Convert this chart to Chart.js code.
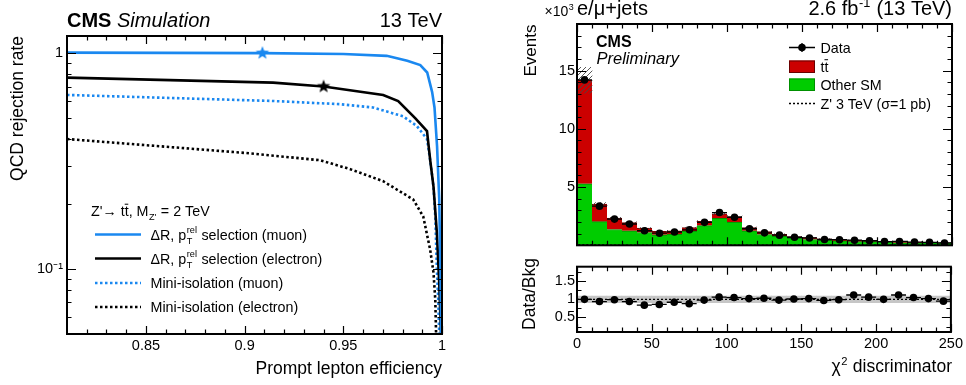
<!DOCTYPE html>
<html>
<head>
<meta charset="utf-8">
<script src="https://cdn.jsdelivr.net/npm/chart.js@4.4.1/dist/chart.umd.min.js"></script>
<style>
  html, body { margin: 0; padding: 0; background: #fff; }
  #wrap { position: relative; width: 966px; height: 385px; overflow: hidden; }
  canvas { position: absolute; }
</style>
</head>
<body>
<div id="wrap">
  <canvas id="rocChart" width="483" height="385" style="left:0;top:0"></canvas>
  <canvas id="histChart" width="483" height="256" style="left:483px;top:0"></canvas>
  <canvas id="ratioChart" width="483" height="129" style="left:483px;top:256px"></canvas>
</div>
<script>
const FONT = "'Liberation Sans', Arial, Helvetica, sans-serif";
Chart.defaults.font.family = FONT;
Chart.defaults.color = '#000';

// left panel: QCD rejection vs prompt lepton efficiency
const effTickValues = [0.85, 0.9, 0.95, 1];
const rejTickValues = [0.1, 1];
const muonDrEff = [0.81, 0.909, 0.95, 0.972, 0.9824, 0.989, 0.9925, 0.995, 0.9962, 0.9975, 0.9986, 0.9992, 0.9996];
const muonDrRej = [1.005, 1.0, 0.99, 0.971, 0.921, 0.88, 0.813, 0.66, 0.56, 0.37, 0.21, 0.10, 0.05];
const elecDrEff = [0.81, 0.9144, 0.94, 0.9702, 0.9778, 0.9864, 0.9924, 0.994, 0.9957, 0.9974, 0.9986, 0.9995];
const elecDrRej = [0.77, 0.73, 0.70, 0.64, 0.60, 0.50, 0.435, 0.32, 0.24, 0.147, 0.086, 0.05];
const muonMiniEff = [0.81, 0.9144, 0.9483, 0.965, 0.9802, 0.9872, 0.9924, 0.994, 0.9957, 0.9966, 0.9974, 0.9981, 0.9986];
const muonMiniRej = [0.64, 0.60, 0.58, 0.56, 0.51, 0.46, 0.40, 0.32, 0.24, 0.175, 0.10, 0.072, 0.05];
const elecMiniEff = [0.81, 0.90, 0.9383, 0.9535, 0.9702, 0.9854, 0.9905, 0.994, 0.9957, 0.9966, 0.997];
const elecMiniRej = [0.40, 0.345, 0.319, 0.29, 0.255, 0.21, 0.175, 0.123, 0.096, 0.072, 0.05];
const muonWpEff = [0.909], muonWpRej = [1.0];
const elecWpEff = [0.94], elecWpRej = [0.70];

// right panel: chi2 discriminator (x10^3 events)
const chi2Edges = [0, 10, 20, 30, 40, 50, 60, 70, 80, 90, 100, 110, 120, 130, 140, 150, 160, 170, 180, 190, 200, 210, 220, 230, 240, 250];
const otherSM = [5.28, 2.03, 1.36, 1.24, 1.1, 0.9, 0.96, 1.22, 1.69, 2.31, 2.0, 1.24, 0.93, 0.78, 0.6, 0.5, 0.43, 0.39, 0.33, 0.31, 0.25, 0.22, 0.19, 0.18, 0.17];
const ttbar = [8.89, 1.5, 0.97, 0.71, 0.37, 0.3, 0.29, 0.3, 0.36, 0.39, 0.47, 0.28, 0.24, 0.17, 0.15, 0.16, 0.13, 0.11, 0.09, 0.08, 0.08, 0.09, 0.09, 0.07, 0.05];
const bkgUnc = [1.1, 0.14, 0.08, 0.07, 0.05, 0.04, 0.04, 0.05, 0.07, 0.09, 0.08, 0.05, 0.04, 0.03, 0.03, 0.02, 0.02, 0.02, 0.02, 0.01, 0.01, 0.01, 0.01, 0.01, 0.01];
const zPrime = [0.28, 0.05, 0.03, 0.02, 0.02, 0.02, 0.02, 0.02, 0.02, 0.02, 0.02, 0.01, 0.01, 0.01, 0.01, 0.01, 0.01, 0.01, 0.01, 0.01, 0.01, 0.01, 0.01, 0.01, 0.01];
const dataEvents = [14.2, 3.36, 2.25, 1.83, 1.25, 1.04, 1.14, 1.33, 1.97, 2.81, 2.41, 1.42, 1.07, 0.87, 0.69, 0.63, 0.5, 0.48, 0.44, 0.39, 0.32, 0.33, 0.28, 0.25, 0.2];
const dataOverBkg = [1.0, 0.94, 0.99, 0.94, 0.84, 0.86, 0.92, 0.88, 0.98, 1.06, 1.05, 1.02, 1.03, 0.98, 1.01, 1.02, 0.97, 0.99, 1.12, 1.06, 1.0, 1.12, 1.05, 1.02, 0.95];
const ratioUnc = [0.09, 0.09, 0.09, 0.09, 0.09, 0.09, 0.09, 0.09, 0.09, 0.09, 0.09, 0.09, 0.09, 0.09, 0.09, 0.09, 0.09, 0.09, 0.09, 0.09, 0.09, 0.09, 0.09, 0.09, 0.09];
const chi2TickValues = [0, 50, 100, 150, 200, 250];
const eventsTickValues = [5, 10, 15];
const ratioTickValues = [0.5, 1, 1.5];

const BLUE = '#1a88f0';
const RED = '#cc0000';
const GREEN = '#00cc00';

const pts = (xs, ys) => xs.map((x, i) => ({ x, y: ys[i] }));
const chi2Centers = chi2Edges.slice(0, -1).map((lo, i) => (lo + chi2Edges[i + 1]) / 2);
const binSegments = vals => vals.flatMap((v, i) => [
  { x: chi2Edges[i], y: v }, { x: chi2Edges[i + 1], y: v }, { x: chi2Edges[i + 1], y: null }
]);
const fmtTick = v => String(+v.toFixed(2));

function starImage(color, r) {
  const c = document.createElement('canvas');
  c.width = c.height = 2 * r + 2;
  const g = c.getContext('2d');
  g.beginPath();
  for (let i = 0; i < 10; i++) {
    const rad = i % 2 ? r * 0.42 : r;
    const a = -Math.PI / 2 + i * Math.PI / 5;
    g.lineTo(r + 1 + rad * Math.cos(a), r + 1 + rad * Math.sin(a));
  }
  g.closePath();
  g.fillStyle = color;
  g.fill();
  return c;
}

function hatchPattern() {
  const c = document.createElement('canvas');
  c.width = c.height = 5;
  const g = c.getContext('2d');
  g.strokeStyle = 'rgba(70,70,70,0.9)';
  g.lineWidth = 1;
  g.beginPath();
  g.moveTo(0, 5); g.lineTo(5, 0);
  g.moveTo(-1, 1); g.lineTo(1, -1);
  g.moveTo(4, 6); g.lineTo(6, 4);
  g.stroke();
  return g.createPattern(c, 'repeat');
}

// text with optional sup/sub pieces; strings are plain runs
function drawRich(ctx, parts, x, y, size, opts = {}) {
  const style = opts.style ? opts.style + ' ' : '';
  const font = s => `${style}${s}px ${FONT}`;
  const small = size * 0.64;
  const widths = parts.map(p => {
    if (typeof p === 'string') { ctx.font = font(size); return ctx.measureText(p).width; }
    if (p.bar) { ctx.font = font(size); return ctx.measureText(p.bar).width; }
    ctx.font = font(small);
    return Math.max(p.sup ? ctx.measureText(p.sup).width : 0, p.sub ? ctx.measureText(p.sub).width : 0) + 1;
  });
  let cx = opts.align === 'right' ? x - widths.reduce((a, b) => a + b, 0) : x;
  ctx.textAlign = 'left';
  ctx.textBaseline = 'alphabetic';
  ctx.fillStyle = '#000';
  parts.forEach((p, i) => {
    if (typeof p === 'string') {
      ctx.font = font(size);
      ctx.fillText(p, cx, y);
    } else if (p.bar) {
      ctx.font = font(size);
      ctx.fillText(p.bar, cx, y);
      ctx.fillRect(cx, y - size * 0.86, widths[i] * 0.9, 1);
    } else {
      ctx.font = font(small);
      if (p.sup) ctx.fillText(p.sup, cx + 0.5, y - size * 0.42);
      if (p.sub) ctx.fillText(p.sub, cx + 0.5, y + size * 0.3);
    }
    cx += widths[i];
  });
}

function vText(ctx, text, x, yEnd, size) {
  ctx.save();
  ctx.translate(x, yEnd);
  ctx.rotate(-Math.PI / 2);
  ctx.font = `${size}px ${FONT}`;
  ctx.fillStyle = '#000';
  ctx.textAlign = 'right';
  ctx.textBaseline = 'alphabetic';
  ctx.fillText(text, 0, 0);
  ctx.restore();
}

// ROOT style frame: ticks pointing inwards on all four sides
function rootFrame(spec) {
  return {
    id: 'rootFrame',
    afterDatasetsDraw(chart) {
      const { ctx, chartArea: a, scales } = chart;
      const xs = scales.x, ys = scales.y;
      ctx.save();
      ctx.strokeStyle = '#000';
      ctx.lineWidth = 1.2;
      ctx.beginPath();
      const xt = (vals, len) => vals.forEach(v => {
        const px = Math.round(xs.getPixelForValue(v)) + 0.5;
        ctx.moveTo(px, a.bottom); ctx.lineTo(px, a.bottom - len);
        ctx.moveTo(px, a.top); ctx.lineTo(px, a.top + len);
      });
      const yt = (vals, len) => vals.forEach(v => {
        const py = Math.round(ys.getPixelForValue(v)) + 0.5;
        ctx.moveTo(a.left, py); ctx.lineTo(a.left + len, py);
        ctx.moveTo(a.right, py); ctx.lineTo(a.right - len, py);
      });
      xt(spec.xMajor, 8); xt(spec.xMinor, 4.5);
      yt(spec.yMajor, 9); yt(spec.yMinor, 4.5);
      ctx.stroke();
      ctx.lineWidth = 2;
      ctx.strokeRect(a.left, a.top, a.right - a.left, a.bottom - a.top);
      ctx.restore();
    }
  };
}

const range = (from, to, step) => {
  const out = [];
  for (let v = from; v <= to + step / 2; v += step) out.push(+v.toFixed(4));
  return out;
};

// ---------- left panel ----------
const curve = (label, xs, ys, color, dashed) => ({
  type: 'scatter', label, data: pts(xs, ys), showLine: true,
  borderColor: color, borderWidth: 2.6, borderDash: dashed ? [2.5, 2.5] : [],
  pointRadius: 0, tension: 0
});

new Chart(document.getElementById('rocChart'), {
  type: 'scatter',
  data: {
    datasets: [
      { label: 'WP muon', data: pts(muonWpEff, muonWpRej), pointStyle: starImage(BLUE, 7), pointRadius: 7 },
      { label: 'WP electron', data: pts(elecWpEff, elecWpRej), pointStyle: starImage('#000', 7), pointRadius: 7 },
      curve('ΔR, pT rel selection (muon)', muonDrEff, muonDrRej, BLUE, false),
      curve('ΔR, pT rel selection (electron)', elecDrEff, elecDrRej, '#000', false),
      curve('Mini-isolation (muon)', muonMiniEff, muonMiniRej, BLUE, true),
      curve('Mini-isolation (electron)', elecMiniEff, elecMiniRej, '#000', true)
    ]
  },
  options: {
    responsive: false,
    animation: false,
    layout: { padding: { top: 36, right: 41, left: 0, bottom: 0 } },
    plugins: { legend: { display: false }, tooltip: { enabled: false } },
    scales: {
      x: {
        type: 'linear', min: 0.81, max: 1.0,
        grid: { display: false, drawTicks: false }, border: { display: false },
        afterBuildTicks: s => { s.ticks = effTickValues.map(v => ({ value: v })); },
        afterFit: s => { s.height = 51; },
        ticks: { font: { size: 14.5 }, padding: 3, maxRotation: 0, autoSkip: false, callback: v => fmtTick(v) }
      },
      y: {
        type: 'logarithmic', min: 0.05, max: 1.2,
        grid: { display: false, drawTicks: false }, border: { display: false },
        afterBuildTicks: s => { s.ticks = rejTickValues.map(v => ({ value: v })); },
        afterFit: s => { s.width = 67; },
        ticks: { font: { size: 14.5 }, padding: 4, autoSkip: false, callback: v => (v === 1 ? '1' : '10⁻¹') }
      }
    }
  },
  plugins: [
    rootFrame({
      xMajor: effTickValues, xMinor: range(0.82, 0.99, 0.01),
      yMajor: rejTickValues, yMinor: [0.05, 0.06, 0.07, 0.08, 0.09, 0.2, 0.3, 0.4, 0.5, 0.6, 0.7, 0.8, 0.9]
    }),
    {
      id: 'rocText',
      afterDraw(chart) {
        const ctx = chart.ctx;
        ctx.save();
        drawRich(ctx, ['CMS'], 67, 27, 20, { style: 'bold' });
        drawRich(ctx, ['Simulation'], 117, 27, 20, { style: 'italic' });
        drawRich(ctx, ['13 TeV'], 442, 27, 20, { align: 'right' });
        drawRich(ctx, ['Prompt lepton efficiency'], 442, 374, 17.5, { align: 'right' });
        vText(ctx, 'QCD rejection rate', 23, 36, 17.5);

        drawRich(ctx, ["Z'→ t", { bar: 't' }, ', M', { sub: "Z'" }, ' = 2 TeV'], 91, 216, 14.3);
        const rows = [
          { y: 234.5, color: BLUE, dash: [], parts: ['ΔR, p', { sup: 'rel', sub: 'T' }, ' selection (muon)'] },
          { y: 258.5, color: '#000', dash: [], parts: ['ΔR, p', { sup: 'rel', sub: 'T' }, ' selection (electron)'] },
          { y: 283, color: BLUE, dash: [2.5, 2.5], parts: ['Mini-isolation (muon)'] },
          { y: 307, color: '#000', dash: [2.5, 2.5], parts: ['Mini-isolation (electron)'] }
        ];
        rows.forEach(r => {
          ctx.beginPath();
          ctx.strokeStyle = r.color;
          ctx.lineWidth = 2.6;
          ctx.setLineDash(r.dash);
          ctx.moveTo(95, r.y); ctx.lineTo(141, r.y);
          ctx.stroke();
          ctx.setLineDash([]);
          drawRich(ctx, r.parts, 150.5, r.y + 5, 14.3);
        });
        ctx.restore();
      }
    }
  ]
});

// ---------- right panel: distribution ----------
const hatch = hatchPattern();
const totalBkg = otherSM.map((v, i) => v + ttbar[i]);
const zPrimeSteps = pts(chi2Edges, zPrime.concat([zPrime[zPrime.length - 1]]));

const xLinear = {
  type: 'linear', min: 0, max: 250, offset: false,
  grid: { display: false, drawTicks: false, offset: false }, border: { display: false },
  afterBuildTicks: s => { s.ticks = chi2TickValues.map(v => ({ value: v })); },
  ticks: { font: { size: 14.5 }, padding: 3, maxRotation: 0, autoSkip: false }
};

new Chart(document.getElementById('histChart'), {
  type: 'bar',
  data: {
    datasets: [
      { type: 'scatter', label: 'Data', data: pts(chi2Centers, dataEvents), pointRadius: 3.8,
        pointBackgroundColor: '#000', pointBorderWidth: 0, order: 0 },
      { type: 'line', label: 'Data bins', data: binSegments(dataEvents), borderColor: '#000', borderWidth: 1.3,
        pointRadius: 0, spanGaps: false, order: 1 },
      { type: 'line', label: "Z' 3 TeV (σ=1 pb)", data: zPrimeSteps, stepped: 'after', borderColor: '#000',
        borderWidth: 1.3, borderDash: [2, 2], pointRadius: 0, order: 2 },
      { type: 'bar', label: 'Uncertainty', yAxisID: 'yUnc',
        data: chi2Centers.map((x, i) => ({ x, y: [totalBkg[i] - bkgUnc[i], totalBkg[i] + bkgUnc[i]] })),
        backgroundColor: hatch, borderWidth: 0, grouped: false, barPercentage: 1, categoryPercentage: 1, order: 3 },
      { type: 'bar', label: 'Other SM', yAxisID: 'yStack', data: pts(chi2Centers, otherSM),
        backgroundColor: GREEN, borderColor: '#009000', borderWidth: { top: 1, left: 0, right: 0, bottom: 0 },
        borderSkipped: false, grouped: false, barPercentage: 1, categoryPercentage: 1, order: 4 },
      { type: 'bar', label: 'tt̄', yAxisID: 'yStack', data: pts(chi2Centers, ttbar),
        backgroundColor: RED, borderColor: '#6a0000', borderWidth: { top: 1, left: 0, right: 0, bottom: 0 },
        borderSkipped: false, grouped: false, barPercentage: 1, categoryPercentage: 1, order: 4 }
    ]
  },
  options: {
    responsive: false,
    animation: false,
    layout: { padding: { top: 24, right: 14, left: 0, bottom: 3 } },
    plugins: { legend: { display: false }, tooltip: { enabled: false } },
    scales: {
      x: { ...xLinear, display: false },
      y: {
        type: 'linear', min: 0, max: 19,
        grid: { display: false, drawTicks: false }, border: { display: false },
        afterBuildTicks: s => { s.ticks = eventsTickValues.map(v => ({ value: v })); },
        afterFit: s => { s.width = 94; },
        ticks: { font: { size: 14.5 }, padding: 2, autoSkip: false }
      },
      yStack: { type: 'linear', display: false, stacked: true, min: 0, max: 19 },
      yUnc: { type: 'linear', display: false, min: 0, max: 19 }
    }
  },
  plugins: [
    rootFrame({ xMajor: chi2TickValues, xMinor: range(10, 240, 10), yMajor: eventsTickValues, yMinor: range(1, 18, 1) }),
    {
      id: 'histText',
      afterDraw(chart) {
        const ctx = chart.ctx;
        ctx.save();
        drawRich(ctx, ['×10', { sup: '3' }], 61.5, 16, 14);
        drawRich(ctx, ['e/μ+jets'], 94, 15, 20);
        drawRich(ctx, ['2.6 fb', { sup: '-1' }, ' (13 TeV)'], 469, 15, 20, { align: 'right' });
        vText(ctx, 'Events', 53, 24.5, 17);
        drawRich(ctx, ['CMS'], 113, 47, 16, { style: 'bold' });
        drawRich(ctx, ['Preliminary'], 113.5, 64, 16.5, { style: 'italic' });

        const lx0 = 306, lx1 = 332, tx = 337.5;
        // data marker
        ctx.beginPath();
        ctx.strokeStyle = '#000';
        ctx.lineWidth = 1.3;
        ctx.moveTo(lx0, 47.5); ctx.lineTo(lx1, 47.5);
        ctx.moveTo((lx0 + lx1) / 2, 43); ctx.lineTo((lx0 + lx1) / 2, 52);
        ctx.stroke();
        ctx.beginPath();
        ctx.fillStyle = '#000';
        ctx.arc((lx0 + lx1) / 2, 47.5, 3.8, 0, Math.PI * 2);
        ctx.fill();
        drawRich(ctx, ['Data'], tx, 52.5, 14.3);
        // filled boxes
        [[60.5, RED, '#6a0000'], [78.5, GREEN, '#009000']].forEach(([y, fill, edge]) => {
          ctx.fillStyle = fill;
          ctx.fillRect(lx0, y, lx1 - lx0, 12.5);
          ctx.strokeStyle = edge;
          ctx.lineWidth = 1;
          ctx.strokeRect(lx0 + 0.5, y + 0.5, lx1 - lx0 - 1, 11.5);
        });
        drawRich(ctx, ['t', { bar: 't' }], tx, 71.5, 14.3);
        drawRich(ctx, ['Other SM'], tx, 89.5, 14.3);
        ctx.beginPath();
        ctx.strokeStyle = '#000';
        ctx.lineWidth = 1.3;
        ctx.setLineDash([2, 2]);
        ctx.moveTo(lx0, 103.5); ctx.lineTo(lx1, 103.5);
        ctx.stroke();
        ctx.setLineDash([]);
        drawRich(ctx, ["Z' 3 TeV (σ=1 pb)"], tx, 108.5, 14.3);
        ctx.restore();
      }
    }
  ]
});

// ---------- right panel: data / background ----------
new Chart(document.getElementById('ratioChart'), {
  type: 'bar',
  data: {
    datasets: [
      { type: 'scatter', label: 'Data/Bkg', data: pts(chi2Centers, dataOverBkg), pointRadius: 3.8,
        pointBackgroundColor: '#000', pointBorderWidth: 0, order: 0 },
      { type: 'line', label: 'Data/Bkg bins', data: binSegments(dataOverBkg), borderColor: '#000', borderWidth: 1.3,
        pointRadius: 0, spanGaps: false, order: 1 },
      { type: 'line', label: 'unity', data: [{ x: 0, y: 1 }, { x: 250, y: 1 }], borderColor: '#000',
        borderWidth: 1.2, borderDash: [2, 2], pointRadius: 0, order: 2 },
      { type: 'bar', label: 'Bkg uncertainty',
        data: chi2Centers.map((x, i) => ({ x, y: [1 - ratioUnc[i], 1 + ratioUnc[i]] })),
        backgroundColor: '#c6c6c6', borderWidth: 0, grouped: false, barPercentage: 1, categoryPercentage: 1, order: 3 }
    ]
  },
  options: {
    responsive: false,
    animation: false,
    layout: { padding: { top: 2, right: 14, left: 0, bottom: 0 } },
    plugins: { legend: { display: false }, tooltip: { enabled: false } },
    scales: {
      x: { ...xLinear, afterFit: s => { s.height = 53; } },
      y: {
        type: 'linear', min: 0.1, max: 1.9,
        grid: { display: false, drawTicks: false }, border: { display: false },
        afterBuildTicks: s => { s.ticks = ratioTickValues.map(v => ({ value: v })); },
        afterFit: s => { s.width = 94; },
        ticks: { font: { size: 14.5 }, padding: 2, autoSkip: false, callback: v => fmtTick(v) }
      }
    }
  },
  plugins: [
    rootFrame({ xMajor: chi2TickValues, xMinor: range(10, 240, 10), yMajor: ratioTickValues, yMinor: [0.25, 0.75, 1.25, 1.75] }),
    {
      id: 'ratioText',
      afterDraw(chart) {
        const ctx = chart.ctx;
        ctx.save();
        vText(ctx, 'Data/Bkg', 52, 2, 17.5);
        drawRich(ctx, ['χ', { sup: '2' }, ' discriminator'], 469, 116, 17.5, { align: 'right' });
        ctx.restore();
      }
    }
  ]
});
</script>
</body>
</html>
